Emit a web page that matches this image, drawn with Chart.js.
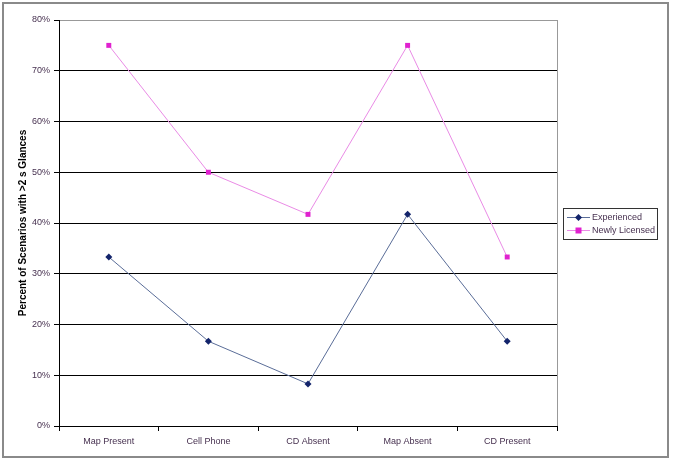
<!DOCTYPE html>
<html>
<head>
<meta charset="utf-8">
<script src="https://cdn.jsdelivr.net/npm/chart.js@4"></script>
<style>
  html, body { margin: 0; padding: 0; background: #fff; }
  #wrap { width: 675px; height: 461px; }
</style>
</head>
<body>
<div id="wrap"><canvas id="chart" width="675" height="461"></canvas></div>
<script>
  const categories = ["Map Present", "Cell Phone", "CD Absent", "Map Absent", "CD Present"];
  const experienced = [0.333, 0.167, 0.083, 0.417, 0.167];
  const newlyLicensed = [0.75, 0.50, 0.417, 0.75, 0.333];
  const seriesNames = ["Experienced", "Newly Licensed"];
  const yTitle = "Percent of Scenarios with >2 s Glances";

  const textColor = "#46304f";
  const font = "Liberation Sans, Arial, sans-serif";

  // outer frame, plot border on the right and custom boxed legend
  const framePlugin = {
    id: "frame",
    beforeDraw(chart) {
      const ctx = chart.ctx;
      ctx.save();
      ctx.fillStyle = "#fff";
      ctx.fillRect(0, 0, chart.width, chart.height);
      ctx.restore();
    },
    afterDraw(chart) {
      const ctx = chart.ctx;
      const a = chart.chartArea;
      ctx.save();
      ctx.strokeStyle = "#8a8a8a";
      ctx.lineWidth = 2;
      ctx.strokeRect(3, 3, 665, 454);

      ctx.strokeStyle = "#999";
      ctx.lineWidth = 1;
      ctx.beginPath();
      ctx.moveTo(Math.round(a.right) + 0.5, a.top);
      ctx.lineTo(Math.round(a.right) + 0.5, a.bottom);
      ctx.stroke();

      // legend
      const lx = 563, ly = 208, lw = 94, lh = 31;
      ctx.strokeStyle = "#333";
      ctx.strokeRect(lx + 0.5, ly + 0.5, lw, lh);
      ctx.font = "9px " + font;
      ctx.textBaseline = "middle";
      chart.data.datasets.forEach((ds, i) => {
        const y = ly + 9 + i * 13;
        ctx.strokeStyle = ds.borderColor;
        ctx.lineWidth = 1;
        ctx.beginPath();
        ctx.moveTo(lx + 4, y + 0.5);
        ctx.lineTo(lx + 27, y + 0.5);
        ctx.stroke();
        ctx.fillStyle = ds.pointBackgroundColor;
        ctx.beginPath();
        if (ds.pointStyle === "rectRot") {
          ctx.moveTo(lx + 15.5, y - 3);
          ctx.lineTo(lx + 19, y + 0.5);
          ctx.lineTo(lx + 15.5, y + 4);
          ctx.lineTo(lx + 12, y + 0.5);
          ctx.closePath();
        } else {
          ctx.rect(lx + 12.5, y - 2.5, 6, 6);
        }
        ctx.fill();
        ctx.fillStyle = textColor;
        ctx.fillText(ds.label, lx + 29, y + 1);
      });
      ctx.restore();
    }
  };

  const ctx = document.getElementById("chart");
  new Chart(ctx, {
    type: "line",
    data: {
      labels: categories,
      datasets: [
        {
          label: seriesNames[0],
          data: experienced,
          borderColor: "#5a6d98",
          borderWidth: 1,
          pointStyle: "rectRot",
          pointRadius: 3.5,
          pointBackgroundColor: "#13246b",
          pointBorderColor: "#13246b",
          pointBorderWidth: 0,
          tension: 0,
        },
        {
          label: seriesNames[1],
          data: newlyLicensed,
          borderColor: "#ea8be6",
          borderWidth: 1,
          pointStyle: "rect",
          pointRadius: 3.5,
          pointBackgroundColor: "#e021cf",
          pointBorderColor: "#e021cf",
          pointBorderWidth: 0,
          tension: 0,
        },
      ],
    },
    options: {
      responsive: false,
      animation: false,
      layout: { padding: { left: 0, top: 20, right: 118, bottom: 0 } },
      plugins: {
        legend: { display: false },
        tooltip: { enabled: false },
      },
      scales: {
        x: {
          offset: true,
          afterFit(scale) { scale.height = 35; },
          grid: {
            offset: true,
            drawOnChartArea: false,
            tickLength: 5,
            tickColor: "#000",
          },
          border: { color: "#000", width: 1 },
          ticks: {
            color: textColor,
            font: { family: font, size: 9 },
            padding: 5,
            maxRotation: 0,
          },
        },
        y: {
          min: 0,
          max: 0.8,
          afterFit(scale) { scale.width = 59; },
          grid: {
            color: (c) => (c.tick && c.tick.value >= 0.8 ? "#999" : "#000"),
            tickColor: "#000",
            tickLength: 5,
          },
          border: { color: "#000", width: 1 },
          ticks: {
            stepSize: 0.1,
            color: textColor,
            font: { family: font, size: 9 },
            padding: 4,
            callback: (v) => Math.round(v * 100) + "%",
          },
          title: {
            display: true,
            text: yTitle,
            color: "#000",
            font: { family: font, size: 10, weight: "bold" },
            padding: { top: 17, bottom: 0 },
          },
        },
      },
    },
    plugins: [framePlugin],
  });
</script>
</body>
</html>
